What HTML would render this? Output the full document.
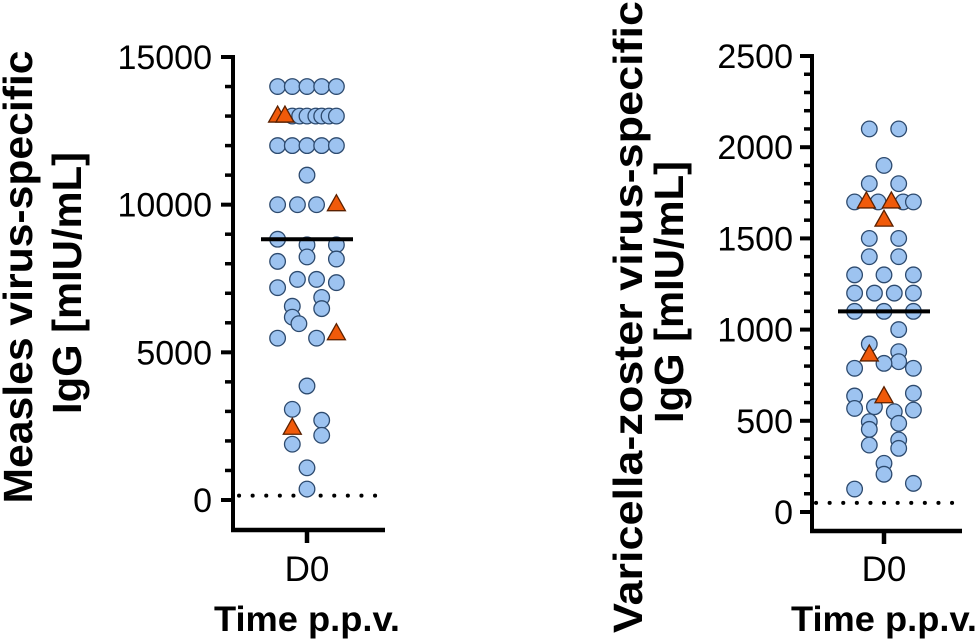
<!DOCTYPE html>
<html><head><meta charset="utf-8"><style>
html,body{margin:0;padding:0;background:#fff;}
svg{display:block;font-family:"Liberation Sans",sans-serif;}
</style></head><body>
<svg id="chart" width="980" height="640" viewBox="0 0 980 640">
<g id="left"></g>
<g id="right"></g>
</svg>
<script>
const measlesCircleValues = [14000,14000,14000,14000,14000, 13000,13000,13000,13000,13000,13000,13000, 12000,12000,12000,12000,12000, 11000, 10000,10000,10000, 8830,8640,8230,8640,8160,8080,7470,7470,7360,7190,6860,6480,6560,6190,5970,5480,5480,3860,3070,1890,2700,2190,1090,370];
const measlesCircleCols   = [-2,-1,0,1,2, -1,-0.5,0,0.6,1,1.5,2, -2,-1,0,1,2, 0, -2,-0.65,0.65, -2,0,0,2,2,-2,-0.65,0.65,2,-2,1,1,-1,-1,-0.55,-2,0.65,0,-1,-1,1,1,0,0];
const measlesTriValues = [13000,13000,10000,5630,2430];
const measlesTriCols   = [-2,-1.5,2,2,-1];
const measlesMean = 8830;
const measlesLimit = 150;
const measlesTicks = [0,5000,10000,15000];

const vzvCircleValues = [2100,2100,1900,1800,1800,1700,1700,1700,1700,1500,1500,1400,1400,1300,1300,1300,1200,1200,1200,1200,1100,1100,1100,1000,921,879,824,815,788,788,636,651,568,577,550,559,495,453,486,367,395,349,267,207,126,157];
const vzvCircleCols   = [-1,1,0,-1,1,-2,-0.4,1.3,2,-1,1,-1,1,-2,0,2,-2,-0.65,0.7,2,-2,0,2,1,-1,1,1,0,-2,2,-2,2,-2,-0.65,0.7,2,-1,-1,1,-1,1,1,0,0,-2,2];
const vzvTriValues = [1700,1700,1600,861,632];
const vzvTriCols   = [-1.2,0.5,0,-1,0];
const vzvMean = 1100;
const vzvLimit = 50;
const vzvTicks = [0,500,1000,1500,2000,2500];

const NS="http://www.w3.org/2000/svg";
function mk(parent,tag,attrs){const e=document.createElementNS(NS,tag);for(const k in attrs)e.setAttribute(k,attrs[k]);parent.appendChild(e);return e;}

function panel(g,o){
  const y=v=>o.y0-(v/o.max)*(o.y0-o.yTop);
  const x=c=>o.cx+c*14.7;
  const ya=mk(g,'line',{x1:o.ax,y1:o.yTop-2,x2:o.ax,y2:o.xAxisY+2,stroke:'#000','stroke-width':4});
  
  
  for(let v=0;v<=o.max;v+=o.minor){
    const major=o.ticks.includes(v);
    const t=mk(g,'line',{x1:o.ax-(major?12:8),y1:y(v),x2:o.ax,y2:y(v),stroke:'#000','stroke-width':major?4:3.5});
    
    
  }
  o.ticks.forEach(v=>{
    const t=mk(g,'text',{x:o.labelX,y:y(v)+12,'text-anchor':'end','font-size':34,fill:'#000'});
    t.textContent=String(v);
    
    
  });
  const xa=mk(g,'line',{x1:o.ax-2,y1:o.xAxisY,x2:o.xEnd,y2:o.xAxisY,stroke:'#000','stroke-width':4.5});
  
  
  const xt=mk(g,'line',{x1:o.cx,y1:o.xAxisY,x2:o.cx,y2:o.xAxisY+13,stroke:'#000','stroke-width':4.5});
  
  
  const xl=mk(g,'text',{x:o.cx,y:581,'text-anchor':'middle','font-size':35,fill:'#000'});
  xl.textContent='D0';
  
  
  const xtitle=mk(g,'text',{x:o.cx,y:631,'text-anchor':'middle','font-size':35,'font-weight':'bold',fill:'#000',textLength:186,lengthAdjust:'spacingAndGlyphs'});
  xtitle.textContent='Time p.p.v.';
  
  
  o.titles.forEach(tt=>{
    const t=mk(g,'text',{transform:`translate(${tt.bx},${tt.cy}) rotate(-90)`,'text-anchor':'middle','font-size':41,'font-weight':'bold',fill:'#000',textLength:tt.len,lengthAdjust:'spacingAndGlyphs'});
    t.textContent=tt.text;
    
    
  });
  const dl=mk(g,'line',{x1:o.cx-68,y1:y(o.limit),x2:o.cx+76,y2:y(o.limit),stroke:'#000','stroke-width':4,'stroke-dasharray':'0.1 13.5','stroke-linecap':'round'});
  
  
  o.cv.forEach((v,i)=>{
    const c=mk(g,'circle',{cx:x(o.cc[i]),cy:y(v),r:7.8,fill:'#9dc3f0',stroke:'#2d4a6e','stroke-width':1.3});
    
    
  });
  o.tv.forEach((v,i)=>{
    const px=x(o.tc[i]),py=y(v);
    const p=mk(g,'polygon',{points:`${px},${py-10} ${px-9},${py+6} ${px+9},${py+6}`,fill:'#f05a0a',stroke:'#5a2000','stroke-width':1.3});
    
    
  });
  const m=mk(g,'line',{x1:o.cx-46,y1:y(o.mean),x2:o.cx+46,y2:y(o.mean),stroke:'#000','stroke-width':4});
  
  
}

panel(document.getElementById('left'),{
  ax:233,cx:307,xEnd:385,xAxisY:530,y0:500,yTop:57,max:15000,minor:1000,ticks:measlesTicks,labelX:212,
  cv:measlesCircleValues,cc:measlesCircleCols,tv:measlesTriValues,tc:measlesTriCols,mean:measlesMean,limit:measlesLimit,
  titles:[{text:'Measles virus-specific',bx:32,cy:277,len:453},{text:'IgG [mIU/mL]',bx:81,cy:283,len:262}]
});
panel(document.getElementById('right'),{
  ax:812,cx:884,xEnd:962,xAxisY:531,y0:512,yTop:56,max:2500,minor:100,ticks:vzvTicks,labelX:793,
  cv:vzvCircleValues,cc:vzvCircleCols,tv:vzvTriValues,tc:vzvTriCols,mean:vzvMean,limit:vzvLimit,
  titles:[{text:'Varicella-zoster virus-specific',bx:642,cy:317,len:632},{text:'IgG [mIU/mL]',bx:683,cy:292,len:262}]
});
</script>
</body></html>
